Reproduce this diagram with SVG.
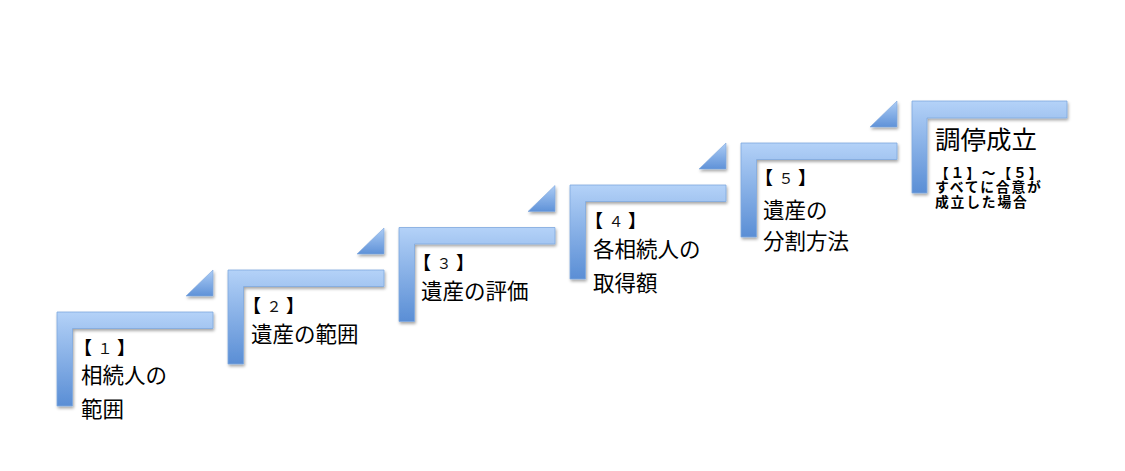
<svg xmlns="http://www.w3.org/2000/svg" width="1125" height="471" viewBox="0 0 1125 471">
<defs>
<linearGradient id="gL" x1="0" y1="0" x2="0" y2="1">
<stop offset="0" stop-color="#b4d2f8"/>
<stop offset="0.18" stop-color="#a3c5f1"/>
<stop offset="1" stop-color="#5a8ed5"/>
</linearGradient>
<linearGradient id="gT" x1="0" y1="0" x2="0" y2="1">
<stop offset="0" stop-color="#acccf5"/>
<stop offset="1" stop-color="#5f92d8"/>
</linearGradient>
<filter id="sh" x="-10%" y="-10%" width="130%" height="130%">
<feDropShadow dx="1" dy="2" stdDeviation="1.4" flood-color="#000" flood-opacity="0.35"/>
</filter>
</defs>
<style>
.step{fill:url(#gL);stroke:#7fa8de;stroke-width:0.8;filter:url(#sh)}
.tri{fill:url(#gT);stroke:#7fa8de;stroke-width:0.6;filter:url(#sh)}
text{font-family:"Noto Sans CJK JP","Noto Sans",sans-serif;fill:#000}
.br{font-size:18px;font-weight:bold}
.br tspan.n{font-weight:normal;font-size:15px;fill:#111}
.m{font-size:21.5px}
.big{font-size:25.5px}
.sm{font-size:13.8px;font-weight:bold;letter-spacing:1.8px}
</style>
<rect width="1125" height="471" fill="#fff"/>
<g id="connectors">
<polygon class="tri" points="186,296 213,296 213,270"/>
<polygon class="tri" points="357,254 384,254 384,228"/>
<polygon class="tri" points="528,211.5 555,211.5 555,185.5"/>
<polygon class="tri" points="699,169 726,169 726,143"/>
<polygon class="tri" points="870,127 897,127 897,101"/>
</g>
<g id="step1">
<path class="step" d="M57,312 h156 v16.5 h-140.5 v77.5 h-15.5 z"/>
<text class="br" y="353.5"><tspan x="74">【</tspan><tspan class="n" x="97.5">１</tspan><tspan x="117">】</tspan></text>
<text class="m" x="81" y="383">相続人の</text>
<text class="m" x="81" y="417">範囲</text>
</g>
<g id="step2">
<path class="step" d="M228,270 h156 v16.5 h-140.5 v77.5 h-15.5 z"/>
<text class="br" y="311.5"><tspan x="243">【</tspan><tspan class="n" x="266.5">２</tspan><tspan x="286">】</tspan></text>
<text class="m" x="251" y="342">遺産の範囲</text>
</g>
<g id="step3">
<path class="step" d="M399,227.5 h156 v16.5 h-140.5 v77.5 h-15.5 z"/>
<text class="br" y="269"><tspan x="413">【</tspan><tspan class="n" x="436.5">３</tspan><tspan x="456">】</tspan></text>
<text class="m" x="421" y="299">遺産の評価</text>
</g>
<g id="step4">
<path class="step" d="M570,185 h156 v16.5 h-140.5 v77.5 h-15.5 z"/>
<text class="br" y="226.5"><tspan x="585">【</tspan><tspan class="n" x="608.5">４</tspan><tspan x="628">】</tspan></text>
<text class="m" x="593" y="257">各相続人の</text>
<text class="m" x="593" y="291">取得額</text>
</g>
<g id="step5">
<path class="step" d="M741,143 h156 v16.5 h-140.5 v77.5 h-15.5 z"/>
<text class="br" y="183.5"><tspan x="755">【</tspan><tspan class="n" x="778.5">５</tspan><tspan x="798">】</tspan></text>
<text class="m" x="763" y="218">遺産の</text>
<text class="m" x="763" y="249">分割方法</text>
</g>
<g id="step6">
<path class="step" d="M912,101 h155 v17 h-140 v75 h-15 z"/>
<text class="big" x="935" y="148.5">調停成立</text>
<text class="sm" x="935" y="177.5">【１】～【５】</text>
<text class="sm" x="935" y="191.5">すべてに合意が</text>
<text class="sm" x="935" y="206.5">成立した場合</text>
</g>
</svg>
